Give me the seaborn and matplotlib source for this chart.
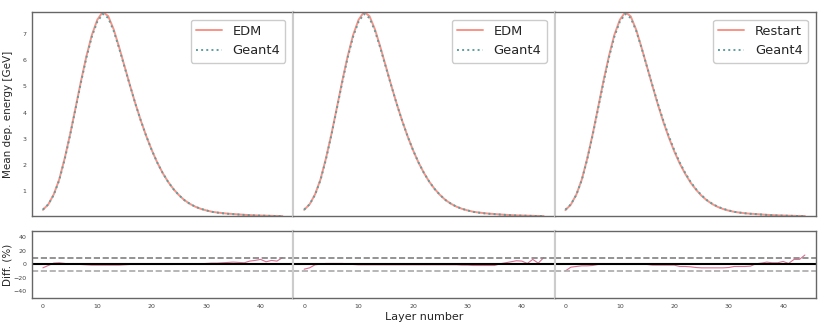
import numpy as np
import pandas as pd
import matplotlib
matplotlib.use("Agg")
import matplotlib.pyplot as plt
import seaborn as sns

layers = list(range(45))

# mean deposited energy per layer [GeV]
edm = [0.29, 0.50, 0.88, 1.45, 2.25, 3.17, 4.18, 5.20, 6.15, 6.96,
       7.54, 7.84, 7.68, 7.18, 6.50, 5.77, 5.04, 4.34, 3.69, 3.10,
       2.57, 2.10, 1.70, 1.36, 1.08, 0.85, 0.66, 0.52, 0.41, 0.33,
       0.27, 0.22, 0.19, 0.165, 0.145, 0.13, 0.115, 0.10, 0.09, 0.08,
       0.074, 0.068, 0.062, 0.057, 0.052]
restart = [0.28, 0.49, 0.87, 1.44, 2.24, 3.17, 4.19, 5.21, 6.16, 6.97,
           7.54, 7.83, 7.67, 7.16, 6.47, 5.74, 5.01, 4.30, 3.64, 3.05,
           2.52, 2.06, 1.67, 1.33, 1.06, 0.83, 0.65, 0.51, 0.40, 0.32,
           0.26, 0.215, 0.185, 0.16, 0.142, 0.13, 0.115, 0.10, 0.09, 0.08,
           0.074, 0.068, 0.062, 0.057, 0.053]
geant4 = [0.30, 0.50, 0.86, 1.42, 2.21, 3.13, 4.14, 5.16, 6.10, 6.90,
          7.47, 7.76, 7.61, 7.12, 6.46, 5.74, 5.03, 4.33, 3.69, 3.10,
          2.57, 2.10, 1.70, 1.36, 1.08, 0.85, 0.66, 0.52, 0.41, 0.33,
          0.27, 0.215, 0.185, 0.16, 0.14, 0.126, 0.111, 0.097, 0.086, 0.075,
          0.069, 0.065, 0.058, 0.054, 0.047]

# relative difference (%) per panel
diff1 = [-5, -1.5, 2, 2.5, 1.5, 0.5, 0.5, 0, -0.5, -1,
         -1, -1, -1, -1, -1, -0.5, 0, 0, 0, 0,
         0, 0, 0, 0, 0, 0.5, 0.5, 0, 1, 1,
         1.5, 2, 2, 2.5, 3, 3.5, 3, 2.5, 5, 6,
         7.5, 4, 6, 5, 10]
diff2 = [-7, -5, -0.5, 0.5, 1.5, 1.5, 1.5, 1.5, 1, 0,
         -0.5, -0.5, -0.5, -0.5, -0.5, -0.5, -0.5, -0.5, -0.5, -0.5,
         -0.5, -0.5, -0.5, -0.5, -0.5, -0.5, -0.5, -0.5, -0.5, -1,
         -1, -1.5, -1.5, -1.5, -1.5, -1.5, 1, 2.5, 4, 5.5,
         5, 1.5, 7.5, 2, 10]
diff3 = [-9.5, -4, -3, -2, -2, -1.5, 0, 0, 0, 0,
         0, 0, 0, 0, 0, 0, -1, -1, -1, -1,
         -1, -3, -3, -3.5, -4.5, -5, -5, -5, -5, -5,
         -4.5, -3, -3, -3, -2.5, 1, 2, 3.5, 2.5, 2.5,
         4.5, 1.5, 7.5, 7.5, 14]

labels = ["EDM", "EDM", "Restart"]
sims = [edm, edm, restart]
diffs = [diff1, diff2, diff3]

sns.set_style("white")
plt.rcParams['font.family'] = ['DejaVu Sans']

fig = plt.figure(figsize=(8.31, 3.31), dpi=100)
left0, pw = 0.0385, 0.3144
spine_col = "#666666"
sep_col = "#cccccc"

for i in range(3):
    l = left0 + i * pw
    ax = fig.add_axes([l, 0.347, pw, 0.617])
    axd = fig.add_axes([l, 0.099, pw, 0.204])

    sns.lineplot(x=layers, y=sims[i], ax=ax, color="salmon", lw=1.4, alpha=0.85, label=labels[i])
    sns.lineplot(x=layers, y=geant4, ax=ax, color="cadetblue", lw=1.4, ls=":", label="Geant4")
    ax.set_xlim(-2, 46)
    ax.set_ylim(0.05, 7.84)
    ax.set_xticks([])
    ax.legend(loc="upper right", fontsize=9.4, framealpha=1, borderaxespad=0.6)

    sns.lineplot(x=layers, y=diffs[i], ax=axd, color="palevioletred", lw=0.8)
    axd.axhline(0, color="black", lw=1.5)
    axd.axhline(10, color="gray", lw=1.2, ls="--")
    axd.axhline(-10, color="darkgray", lw=1.2, ls="--")
    axd.set_xlim(-2, 46)
    axd.set_ylim(-50, 50)
    axd.set_xticks([0, 10, 20, 30, 40])

    for a in (ax, axd):
        for s in a.spines.values():
            s.set_color(spine_col)
            s.set_linewidth(1.0)
        if i > 0:
            a.spines['left'].set_color(sep_col)
            a.spines['left'].set_linewidth(1.5)
            a.set_yticks([])
        if i < 2:
            a.spines['right'].set_color(sep_col)
            a.spines['right'].set_linewidth(1.5)
        a.tick_params(labelsize=4.5, length=2, width=0.5, colors="#444444", pad=2)
        a.set_ylabel("")
        a.set_xlabel("")

    if i == 0:
        ax.set_yticks([1, 2, 3, 4, 5, 6, 7])
        axd.set_yticks([-40, -20, 0, 20, 40])
        ax.set_ylabel("Mean dep. energy [GeV]", fontsize=7.5)
        axd.set_ylabel("Diff. (%)", fontsize=7.5)
        ax.yaxis.set_label_coords(-0.074, 0.5)
        axd.yaxis.set_label_coords(-0.074, 0.5)
    if i == 1:
        axd.set_xlabel("Layer number", fontsize=8, labelpad=2)

fig.savefig("out.png", dpi=100)
